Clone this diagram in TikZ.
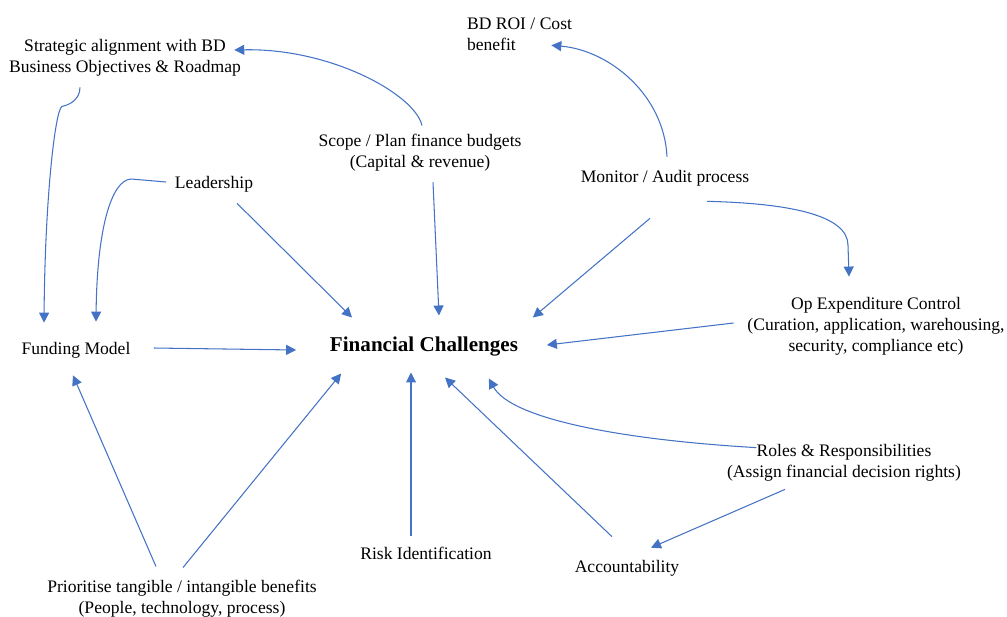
\documentclass[tikz,border=0pt]{standalone}
\usepackage{fontspec}
\setmainfont{Liberation Serif}
\usetikzlibrary{arrows.meta}
\definecolor{arrblue}{RGB}{68,114,196}

\begin{document}
\begin{tikzpicture}[x=0.02cm, y=-0.02cm, inner sep=0pt,
  lbl/.style={align=center, font=\fontsize{10}{12}\selectfont},
  arr/.style={-{Triangle[length=2mm,width=2mm]}, draw=arrblue, line width=0.6pt}]

\useasboundingbox (0,0) rectangle (1007,616);

\node[lbl] (strat) at (125,58) {Strategic alignment with BD\\Business Objectives \& Roadmap};
\node[lbl, align=left] (roi) at (519.5,34) {BD ROI / Cost\\benefit};
\node[lbl] (scope) at (420,153) {Scope / Plan finance budgets\\(Capital \& revenue)};
\node[lbl] (lead) at (214,184) {Leadership};
\node[lbl] (monitor) at (665,178) {Monitor / Audit process};
\node[font=\fontsize{12}{14}\selectfont\bfseries] (fin) at (424,347) {Financial Challenges};
\node[lbl] (fund) at (76,350) {Funding Model};
\node[lbl] (opex) at (876,326) {Op Expenditure Control\\(Curation, application, warehousing,\\security, compliance etc)};
\node[lbl] (roles) at (844,463) {Roles \& Responsibilities\\(Assign financial decision rights)};
\node[lbl] (risk) at (426,553) {Risk Identification};
\node[lbl] (acc) at (627,568) {Accountability};
\node[lbl] (prio) at (182,599) {Prioritise tangible / intangible benefits\\(People, technology, process)};

\draw[arr] ([shift={(2,-8.5)}]scope.north) .. controls +(-7,-31) and +(97,-2) .. ([shift={(-7,-8)}]strat.east);
\draw[arr] ([shift={(-45,10.5)}]strat.south) .. controls +(0,13) and +(6,-1) .. ++(-18,19)
  .. controls +(-7,4) and +(1,-123) .. ([shift={(-32,-19)}]fund.north);
\draw[arr] ([shift={(-8.5,-2)}]lead.west) -- ++(-35,-3) .. controls +(-20,1) and +(1,-92) .. ([shift={(20,-20)}]fund.north);
\draw[arr] ([shift={(23,11)}]lead.south) -- ([shift={(-72,-19.5)}]fin.north);
\draw[arr] ([shift={(13,10.5)}]scope.south) -- ([shift={(15,-21.5)}]fin.north);
\draw[arr] ([shift={(2,-13)}]monitor.north) .. controls +(-3,-62) and +(58,5) .. ([shift={(-21,-5.5)}]roi.south east);
\draw[arr] ([shift={(42,15)}]monitor.south) .. controls +(83,2) and +(0,-30) .. ++(141,44) -- ([shift={(-27,-20)}]opex.north);
\draw[arr] ([shift={(-15,32)}]monitor.south) -- ([shift={(14.5,-19.5)}]fin.north east);
\draw[arr] ([shift={(-13.5,-3)}]opex.west) -- ([shift={(28.5,-2)}]fin.east);
\draw[arr] ([shift={(23,-2)}]fund.east) -- ([shift={(-33.5,3)}]fin.west);
\draw[arr] ([shift={(-26,-13.5)}]prio.north) -- ([shift={(-3,17)}]fund.south);
\draw[arr] ([shift={(1,-12.5)}]prio.north) -- ([shift={(11.5,16.5)}]fin.south west);
\draw[arr] ([shift={(-15,-10)}]risk.north) -- ([shift={(-13,15.5)}]fin.south);
\draw[arr] ([shift={(-15,-23)}]acc.north) -- ([shift={(21,20.5)}]fin.south);
\draw[arr] ([shift={(29.5,3.5)}]roles.north west) .. controls +(-137,-8) and +(22,40) .. ([shift={(-29.5,21.5)}]fin.south east);
\draw[arr] ([shift={(-59,7.5)}]roles.south) -- ([shift={(24,-12)}]acc.north);
\end{tikzpicture}
\end{document}
